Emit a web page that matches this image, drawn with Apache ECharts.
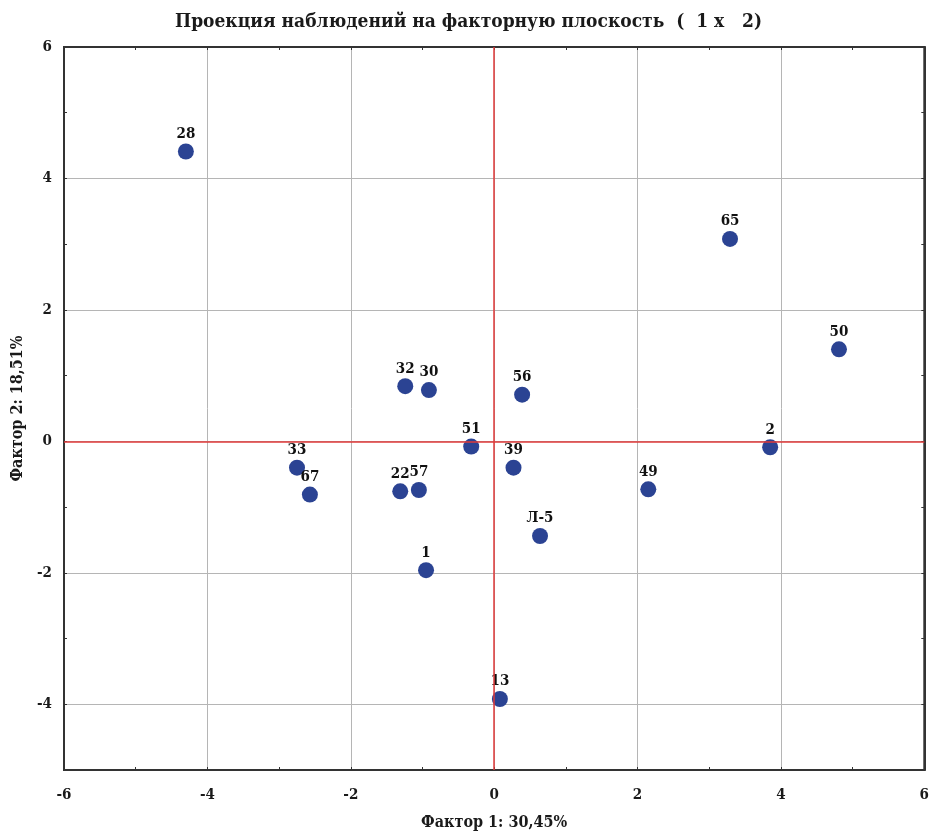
<!DOCTYPE html>
<html>
<head>
<meta charset="utf-8">
<script src="https://cdn.jsdelivr.net/npm/echarts@6/dist/echarts.min.js"></script>
<style>
  html, body { margin: 0; padding: 0; background: #fff; }
  #chart { width: 932px; height: 836px; }
</style>
</head>
<body>
<div id="chart"></div>
<script>
// наблюдения: метка, фактор 1, фактор 2
const labels = ['28', '65', '50', '32', '30', '56', '51', '2', '33', '39', '67', '22', '57', '49', 'Л-5', '1', '13']
const factor1 = [-4.30, 3.29, 4.81, -1.24, -0.91, 0.39, -0.32, 3.85, -2.75, 0.27, -2.57, -1.31, -1.05, 2.15, 0.64, -0.95, 0.08]
const factor2 = [4.41, 3.08, 1.40, 0.84, 0.78, 0.71, -0.08, -0.09, -0.40, -0.40, -0.81, -0.76, -0.74, -0.73, -1.44, -1.96, -3.92]

const xRange = [-6, 6]
const yRange = [-5, 6]

const font = '"DejaVu Serif Condensed", "Liberation Serif", serif'

let points = []
labels.map((name, i) => {
    points.push({ name: name, value: [factor1[i], factor2[i]] })
})

const chart = echarts.init(document.getElementById('chart'))

// подписи только у чётных делений
const evenOnly = v => (Math.round(v) % 2 === 0 ? String(Math.round(v)) : '')

chart.setOption({
    animation: false,
    title: {
        text: 'Проекция наблюдений на факторную плоскость  (  1 x   2)',
        left: 170,
        top: 8,
        textStyle: { fontFamily: font, fontSize: 19, fontWeight: 'bold', color: '#1a1a1a' }
    },
    grid: {
        left: 64,
        right: 7,
        top: 47,
        bottom: 54,
        show: true,
        borderColor: '#333',
        borderWidth: 2
    },
    xAxis: [{
        type: 'value',
        min: xRange[0],
        max: xRange[1],
        interval: 1,
        name: 'Фактор 1: 30,45%',
        nameLocation: 'middle',
        nameGap: 45,
        nameTextStyle: { fontFamily: font, fontSize: 16, fontWeight: 'bold', color: '#1a1a1a' },
        axisLine: { onZero: false, lineStyle: { color: '#333', width: 2 } },
        axisTick: { inside: true, length: 3, lineStyle: { color: '#333' } },
        axisLabel: { formatter: evenOnly, margin: 18, fontFamily: font, fontSize: 15, fontWeight: 'bold', color: '#1a1a1a' },
        splitLine: { show: true, lineStyle: { color: ['#b5b5b5', 'rgba(0,0,0,0)'], width: 1 } }
    }, {
        type: 'value',
        position: 'top',
        min: xRange[0],
        max: xRange[1],
        interval: 1,
        axisLine: { onZero: false, lineStyle: { color: '#333', width: 2 } },
        axisTick: { inside: true, length: 3, lineStyle: { color: '#333' } },
        axisLabel: { show: false },
        splitLine: { show: false }
    }],
    yAxis: [{
        type: 'value',
        min: yRange[0],
        max: yRange[1],
        interval: 1,
        name: 'Фактор 2: 18,51%',
        nameLocation: 'middle',
        nameGap: 35,
        nameTextStyle: { fontFamily: font, fontSize: 16, fontWeight: 'bold', color: '#1a1a1a' },
        axisLine: { onZero: false, lineStyle: { color: '#333', width: 2 } },
        axisTick: { inside: true, length: 3, lineStyle: { color: '#333' } },
        axisLabel: { formatter: evenOnly, margin: 12, fontFamily: font, fontSize: 15, fontWeight: 'bold', color: '#1a1a1a' },
        splitLine: { show: true, lineStyle: { color: ['rgba(0,0,0,0)', '#b5b5b5'], width: 1 } }
    }, {
        type: 'value',
        position: 'right',
        min: yRange[0],
        max: yRange[1],
        interval: 1,
        axisLine: { onZero: false, lineStyle: { color: '#333', width: 2 } },
        axisTick: { inside: true, length: 3, lineStyle: { color: '#333' } },
        axisLabel: { show: false },
        splitLine: { show: false }
    }],
    series: [{
        type: 'scatter',
        xAxisIndex: 0,
        yAxisIndex: 0,
        symbolSize: 16,
        itemStyle: { color: '#2b4393', opacity: 1 },
        label: {
            show: true,
            position: 'top',
            distance: 2,
            formatter: p => p.name,
            fontFamily: font,
            fontSize: 15,
            fontWeight: 'bold',
            color: '#111'
        },
        markLine: {
            silent: true,
            symbol: 'none',
            label: { show: false },
            lineStyle: { color: '#e03a3a', width: 1.5, type: 'solid' },
            data: [{ xAxis: 0 }, { yAxis: 0 }]
        },
        data: points,
        z: 3
    }]
})
</script>
</body>
</html>
